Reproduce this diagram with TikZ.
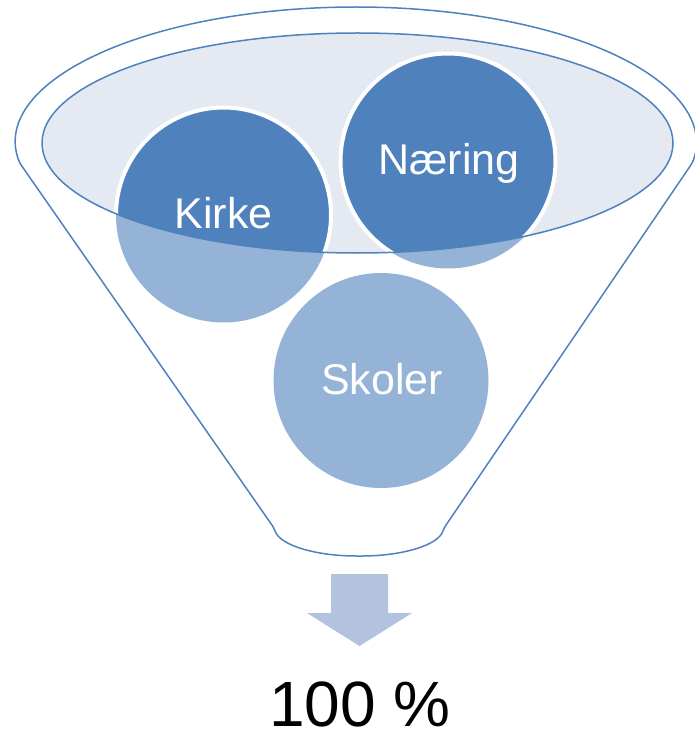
\documentclass[tikz,border=0pt]{standalone}
\usepackage{fontspec}
\setmainfont{Liberation Sans}
\definecolor{fline}{HTML}{4F81BD}
\definecolor{cdark}{HTML}{4F81BD}
\definecolor{clight}{HTML}{95B3D7}
\definecolor{efill}{HTML}{E4E9F2}
\definecolor{afill}{HTML}{B3C3DF}
\tikzset{
  funnelline/.style={draw=fline, line width=1.5pt, line join=round},
  ballbase/.style={draw=white, line width=4pt},
  balllabel/.style={anchor=base, text=white, font=\fontsize{43}{50}\selectfont, inner sep=0pt},
}
\begin{document}
\begin{tikzpicture}[x=1pt,y=-1pt]
\useasboundingbox (0,0) rectangle (694,735);
% funnel body
\draw[funnelline, rounded corners=3pt] (19.7,163) arc[start angle=171.54, end angle=368.46, x radius=340, y radius=136]
  -- (444,528) .. controls (438,546) and (400,556) .. (359,556)
  .. controls (318,556) and (280,546) .. (274,528) -- cycle;
% inner ellipse fill
\fill[efill] (357.5,143) ellipse[x radius=315.5, y radius=110];
% balls (light)
\fill[clight] (223.5,215) circle[radius=107.5];
\fill[clight] (448,161) circle[radius=107.5];
\fill[clight] (381,380.5) circle[radius=107.5];
% balls inside the mouth (dark)
\begin{scope}
  \clip (357.5,143) ellipse[x radius=315.5, y radius=110];
  \draw[ballbase, fill=cdark] (223.5,215) circle[radius=107.5];
  \draw[ballbase, fill=cdark] (448,161) circle[radius=107.5];
\end{scope}
% ellipse outline
\draw[funnelline] (357.5,143) ellipse[x radius=315.5, y radius=110];
% labels
\node[balllabel] (kirke) at (223.5,228) {Kirke};
\node[balllabel] (naering) at (449,175) {Næring};
\node[balllabel] (skoler) at (382,394) {Skoler};
% arrow
\fill[afill] (331,574) -- (388,574) -- (388,613) -- (412,613) -- (359.5,646) -- (307,613) -- (331,613) -- cycle;
\coordinate (tip) at (359.5,646);
\node[anchor=base, inner sep=0pt, font=\fontsize{64}{72}\selectfont] (result) at (360,726) {100 \%};
\end{tikzpicture}
\end{document}
